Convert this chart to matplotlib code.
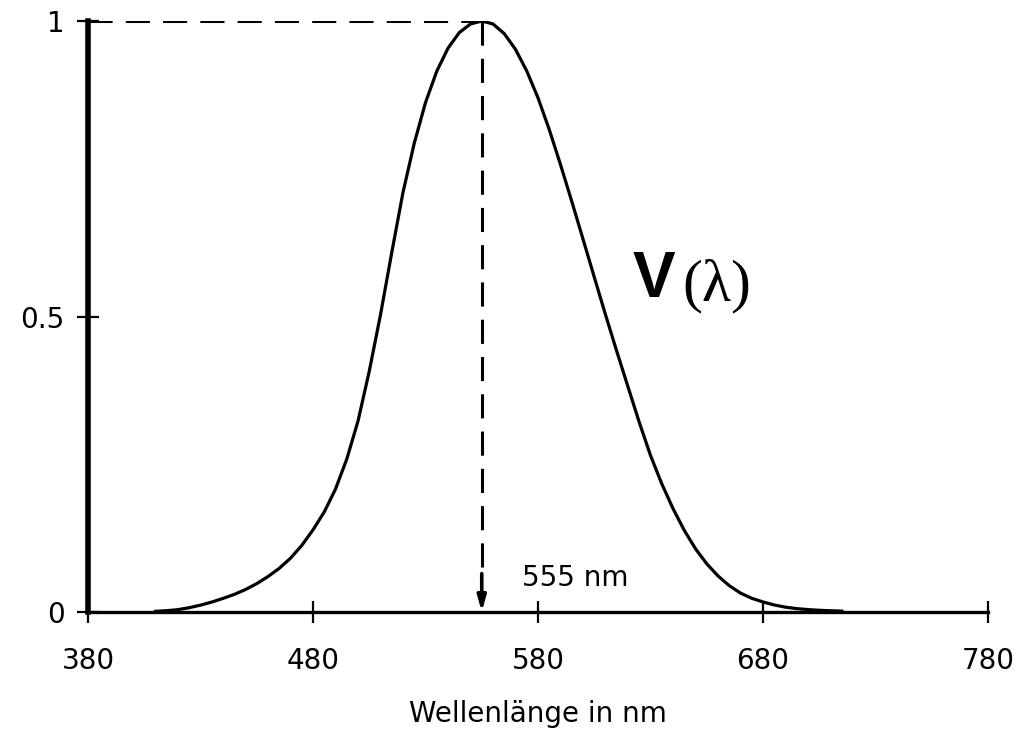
import matplotlib
matplotlib.use("Agg")
import matplotlib.pyplot as plt

plt.rcParams['font.family'] = ['DejaVu Sans']

wavelength = [410, 415, 420, 425, 430, 435, 440, 445, 450, 455, 460, 465, 470, 475,
              480, 485, 490, 495, 500, 505, 510, 515, 520, 525, 530, 535, 540, 545,
              550, 555, 560, 565, 570, 575, 580, 585, 590, 595, 600, 605, 610, 615,
              620, 625, 630, 635, 640, 645, 650, 655, 660, 665, 670, 675, 680, 685,
              690, 695, 700, 705, 710, 715]
v_lambda = [0.0012, 0.0022, 0.004, 0.0073, 0.0116, 0.0168, 0.023, 0.0298, 0.038, 0.048,
            0.060, 0.0739, 0.091, 0.1126, 0.139, 0.1693, 0.208, 0.2586, 0.323, 0.4073,
            0.503, 0.6082, 0.710, 0.7932, 0.862, 0.9149, 0.954, 0.9803, 0.995, 1.0,
            0.995, 0.9786, 0.952, 0.9154, 0.870, 0.8163, 0.757, 0.6949, 0.631, 0.5668,
            0.503, 0.4412, 0.381, 0.321, 0.265, 0.217, 0.175, 0.1382, 0.107, 0.0816,
            0.061, 0.0446, 0.032, 0.0232, 0.017, 0.0119, 0.0082, 0.0057, 0.0041, 0.0029,
            0.0021, 0.0015]
peak_wl = 555
peak_v = 1.0
x_ticks = [380, 480, 580, 680, 780]
y_ticks = [0, 0.5, 1]
y_ticklabels = ['0', '0.5', '1']

fig = plt.figure(figsize=(10.3, 7.31), dpi=100)
ax = fig.add_axes([88/1030, 119/731, 900/1030, 591/731])

ax.plot(wavelength, v_lambda, color='black', lw=2.3, solid_joinstyle='round', zorder=3)

# dashed guide lines
ax.plot([380, peak_wl], [peak_v, peak_v], color='black', lw=2.2, dashes=(7.9, 4.3), zorder=2)
ax.plot([peak_wl, peak_wl], [peak_v, 0.06], color='black', lw=2.2, dashes=(7.9, 4.3), zorder=2)
ax.annotate('', xy=(peak_wl, 0.0), xytext=(peak_wl, 0.065),
            arrowprops=dict(arrowstyle='-|>,head_length=0.9,head_width=0.25',
                            color='black', lw=2.6, shrinkA=0, shrinkB=0))

ax.text(573, 0.058, '555 nm', fontsize=20, ha='left', va='center')
ax.text(622, 0.562, 'V', fontsize=46, fontweight='bold', family='Liberation Sans',
        ha='left', va='center')
ax.text(644, 0.552, '(λ)', fontsize=43, family='Liberation Serif',
        ha='left', va='center')

ax.set_xlim(380, 780)
ax.set_ylim(0, 1)
ax.set_xticks(x_ticks)
ax.set_yticks(y_ticks)
ax.set_yticklabels(y_ticklabels)
ax.tick_params(direction='inout', length=16, width=1.6, labelsize=20)
ax.tick_params(axis='y', pad=9)
ax.tick_params(axis='x', pad=17)

for s in ['top', 'right']:
    ax.spines[s].set_visible(False)
ax.spines['left'].set_linewidth(4)
ax.spines['bottom'].set_linewidth(2.4)

ax.set_xlabel('Wellenlänge in nm', fontsize=20, labelpad=18)

fig.savefig('out.png', dpi=100)
